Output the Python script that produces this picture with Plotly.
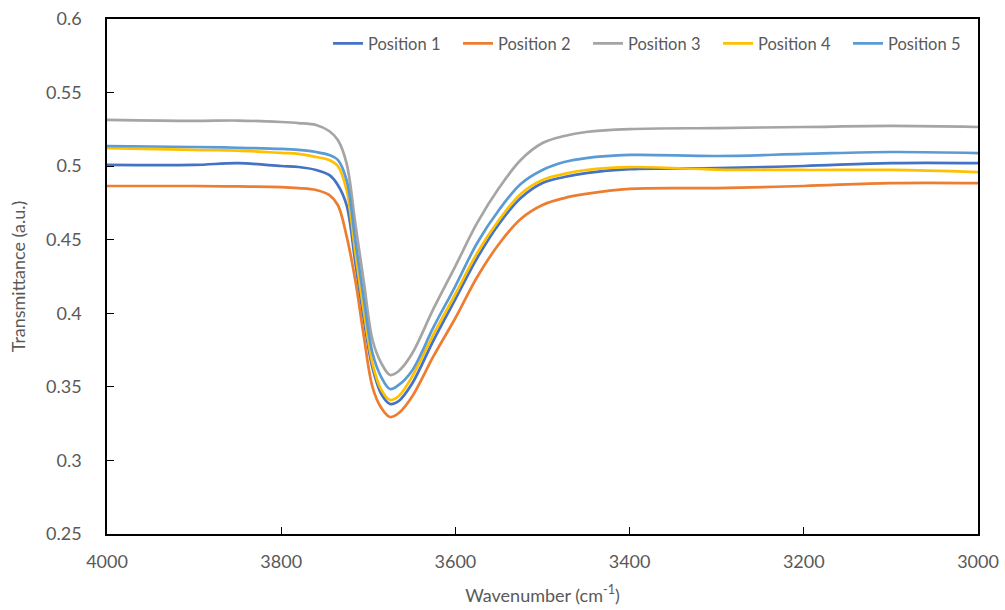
import plotly.graph_objects as go

# Wavenumber grid (cm-1) and transmittance readings for each measurement position
wavenumber = [4000, 3900, 3850, 3800, 3780, 3760, 3745, 3735, 3725, 3715, 3705,
              3695, 3685, 3675, 3665, 3650, 3625, 3600, 3575, 3550, 3525, 3500,
              3475, 3450, 3400, 3300, 3200, 3100, 3000]

position_1 = [0.5008, 0.5008, 0.5020, 0.5001, 0.4994, 0.4974, 0.4940, 0.4872, 0.4736, 0.4348, 0.3954,
              0.3625, 0.3451, 0.3384, 0.3404, 0.3519, 0.3818, 0.4097, 0.4376, 0.4607, 0.4783, 0.4885,
              0.4926, 0.4953, 0.4980, 0.4987, 0.5001, 0.5021, 0.5021]
position_2 = [0.4865, 0.4865, 0.4862, 0.4858, 0.4851, 0.4838, 0.4804, 0.4736, 0.4526, 0.4226, 0.3839,
              0.3495, 0.3356, 0.3295, 0.3322, 0.3431, 0.3710, 0.3968, 0.4247, 0.4471, 0.4641, 0.4736,
              0.4783, 0.4811, 0.4845, 0.4851, 0.4865, 0.4885, 0.4885]
position_3 = [0.5314, 0.5307, 0.5310, 0.5300, 0.5293, 0.5280, 0.5239, 0.5178, 0.5021, 0.4614, 0.4206,
              0.3815, 0.3660, 0.3581, 0.3608, 0.3723, 0.4033, 0.4321, 0.4614, 0.4851, 0.5042, 0.5157,
              0.5205, 0.5232, 0.5252, 0.5259, 0.5266, 0.5273, 0.5266]
position_4 = [0.5123, 0.5110, 0.5105, 0.5090, 0.5083, 0.5062, 0.5042, 0.5001, 0.4838, 0.4416, 0.4009,
              0.3655, 0.3479, 0.3411, 0.3438, 0.3567, 0.3859, 0.4131, 0.4410, 0.4634, 0.4811, 0.4906,
              0.4947, 0.4974, 0.4994, 0.4977, 0.4974, 0.4974, 0.4960]
position_5 = [0.5137, 0.5130, 0.5125, 0.5117, 0.5110, 0.5096, 0.5076, 0.5042, 0.4906, 0.4498, 0.4090,
              0.3725, 0.3565, 0.3485, 0.3513, 0.3608, 0.3907, 0.4185, 0.4478, 0.4702, 0.4879, 0.4974,
              0.5028, 0.5055, 0.5076, 0.5069, 0.5083, 0.5096, 0.5089]

series = [
    ("Position 1", position_1, "#4472C4"),
    ("Position 2", position_2, "#ED7D31"),
    ("Position 3", position_3, "#A5A5A5"),
    ("Position 4", position_4, "#FFC000"),
    ("Position 5", position_5, "#5B9BD5"),
]

FONT = "Lato, 'Open Sans', sans-serif"
GREY_TEXT = "#595959"

fig = go.Figure()
for name, values, color in series:
    fig.add_trace(go.Scatter(
        x=wavenumber, y=values, name=name, mode="lines",
        line=dict(color=color, width=2.7, shape="spline", smoothing=1.0),
    ))

fig.update_layout(
    width=1005, height=610,
    margin=dict(l=107, r=27, t=19, b=76),
    paper_bgcolor="white", plot_bgcolor="white",
    font=dict(family=FONT, size=18, color=GREY_TEXT),
    showlegend=True,
    legend=dict(
        orientation="h", x=1.0, xanchor="right", y=0.952, yanchor="middle",
        font=dict(family=FONT, size=16.5, color=GREY_TEXT),
        bgcolor="rgba(0,0,0,0)", itemwidth=30,
        entrywidth=85, entrywidthmode="pixels",
    ),
)

fig.update_xaxes(
    range=[4000, 3000], tick0=3000, dtick=200,
    showgrid=False, zeroline=False, automargin=False,
    showline=True, linecolor="black", linewidth=1.5, mirror=True,
    ticks="inside", ticklen=7, tickcolor="black", tickwidth=1,
    tickfont=dict(size=18, color=GREY_TEXT),
    ticklabelstandoff=11,
    title=dict(text="Wavenumber (cm<sup>-1</sup>)", font=dict(size=18, color=GREY_TEXT), standoff=18),
)
fig.update_yaxes(
    range=[0.25, 0.6], tick0=0.25, dtick=0.05,
    showgrid=False, zeroline=False, automargin=False,
    showline=True, linecolor="black", linewidth=1.5, mirror=True,
    ticks="inside", ticklen=7, tickcolor="black", tickwidth=1,
    tickfont=dict(size=18, color=GREY_TEXT),
    ticklabelstandoff=20,
    title=dict(text="Transmittance (a.u.)", font=dict(size=18, color=GREY_TEXT), standoff=16),
)

fig.write_html("out.html")
